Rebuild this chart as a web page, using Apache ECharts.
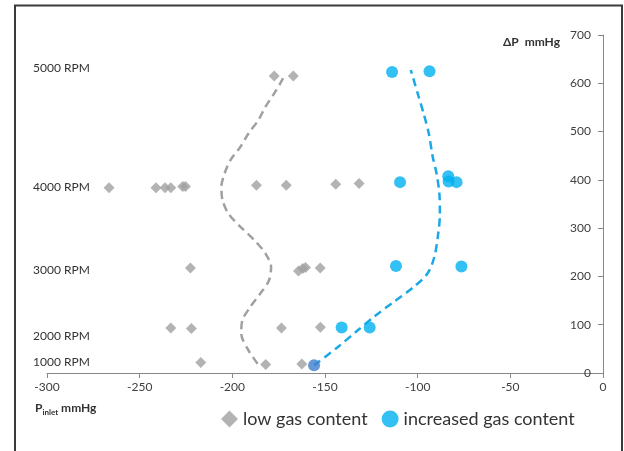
<!DOCTYPE html>
<html>
<head>
<meta charset="utf-8">
<script src="https://cdn.jsdelivr.net/npm/echarts@6/dist/echarts.min.js"></script>
<style>
html,body{margin:0;padding:0;background:#fff;}
#chart{width:624px;height:451px;}
</style>
</head>
<body>
<div id="chart"></div>
<script>
// Low gas content points [P_inlet mmHg, ΔP mmHg]
var lowGas = [
  [-177.4, 615], [-167.1, 615],
  [-266.5, 383.5], [-241.2, 383.5], [-236.3, 383.5], [-233.2, 383.5], [-226.8, 386], [-225.3, 386],
  [-187.0, 389], [-170.9, 389], [-144.2, 391], [-131.6, 392.5],
  [-222.6, 217.7], [-164.3, 211.4], [-162.0, 216.4], [-160.5, 218.5], [-152.6, 217.7],
  [-233.2, 93.3], [-222.1, 92], [-173.5, 93.3], [-152.5, 94.7],
  [-217.0, 21.5], [-182.0, 17.4], [-162.5, 18.7]
];
// Increased gas content points
var highGas = [
  [-113.8, 623.3], [-93.6, 624.8],
  [-109.5, 395.3], [-83.5, 407.7], [-83.3, 396.7], [-79.0, 395.3],
  [-111.7, 221.8], [-76.4, 220.5],
  [-141.0, 94], [-125.9, 94]
];
// Overlapping (darker) point at 1000 RPM
var overlapPoint = [[-155.9, 16]];
// Dashed trend curve, low gas content
var lowCurve = [
  [-186.4, 19.4], [-191.3, 47], [-195.2, 81.5], [-194.6, 109], [-190.3, 137], [-184.9, 164.5],
  [-180.2, 192], [-179.1, 219.8], [-182.1, 247.4], [-188.1, 275], [-195.6, 302.7], [-202.1, 330],
  [-205.3, 358], [-205.9, 385.6], [-204.2, 413], [-201.0, 441], [-195.6, 468.6], [-191.3, 496],
  [-185.9, 524], [-182.1, 551.5], [-177.4, 579], [-173.1, 607], [-172.4, 615]
];
// Dashed trend curve, increased gas content
var highCurve = [
  [-155.9, 16], [-143.0, 54], [-132.3, 88.5], [-123.7, 116], [-113.0, 147], [-102.2, 178],
  [-94.7, 206], [-91.0, 240.5], [-88.9, 289], [-88.0, 330], [-88.3, 372], [-89.8, 413],
  [-91.9, 448], [-94.0, 496], [-96.8, 537.7], [-100.0, 579], [-103.7, 627.5]
];
var rpmLabels = ['5000 RPM', '4000 RPM', '3000 RPM', '2000 RPM', '1000 RPM'];
var rpmLabelY = [69, 188, 271, 337, 363];
var seriesNames = ['low gas content', 'increased gas content'];

var FONT = 'Lato, "Open Sans", "Liberation Sans", sans-serif';
var chart = echarts.init(document.getElementById('chart'));

var graphics = [
  { type: 'rect', shape: { x: 15, y: 5.5, width: 607, height: 460 },
    style: { fill: 'none', stroke: '#3a3a3a', lineWidth: 2 }, silent: true },
  { type: 'text', left: 35, top: 402,
    style: { text: '{b|P}{s|inlet}{b| mmHg}', rich: {
      b: { fontFamily: FONT, fontSize: 12, fontWeight: 'bold', fill: '#333', verticalAlign: 'bottom' },
      s: { fontFamily: FONT, fontSize: 8, fontWeight: 'bold', fill: '#333', verticalAlign: 'bottom', padding: [0,0,-2,0] }
    } } },
  { type: 'text', left: 503, top: 36,
    style: { text: 'ΔP  mmHg', fontFamily: FONT, fontSize: 12, fontWeight: 'bold', fill: '#333' } }
];
rpmLabels.forEach(function (t, i) {
  graphics.push({ type: 'text', left: 33, top: rpmLabelY[i] - 7,
    style: { text: t, fontFamily: FONT, fontSize: 12, fill: '#333' } });
});

chart.setOption({
  animation: false,
  backgroundColor: '#fff',
  grid: { left: 47, right: 21, top: 35, bottom: 78, containLabel: false },
  legend: {
    data: [
      { name: seriesNames[0], icon: 'diamond' },
      { name: seriesNames[1], icon: 'circle' }
    ],
    left: 216, top: 405,
    itemWidth: 17, itemHeight: 17, itemGap: 14,
    textStyle: { fontFamily: FONT, fontSize: 18, color: '#333' }
  },
  xAxis: {
    type: 'value', min: -300, max: 0, interval: 50,
    axisLine: { onZero: false, lineStyle: { color: '#888', width: 1 } },
    axisTick: { show: true, length: 5, lineStyle: { color: '#888' } },
    axisLabel: { margin: 8, fontFamily: FONT, fontSize: 12, color: '#404040' },
    splitLine: { show: false }
  },
  yAxis: {
    type: 'value', position: 'right', min: 0, max: 700, interval: 100,
    axisLine: { show: true, onZero: false, lineStyle: { color: '#888', width: 1 } },
    axisTick: { show: true, inside: true, length: 5, lineStyle: { color: '#888' } },
    axisLabel: { inside: true, margin: 12, fontFamily: FONT, fontSize: 12, color: '#404040' },
    splitLine: { show: false }
  },
  graphic: graphics,
  series: [
    { name: 'lowCurve', type: 'line', data: lowCurve, smooth: 0.3, symbol: 'none', z: 1,
      lineStyle: { color: '#a0a0a0', width: 2.5, type: [8, 5] } },
    { name: 'highCurve', type: 'line', data: highCurve, smooth: 0.3, symbol: 'none', z: 1,
      lineStyle: { color: '#1ba8e6', width: 2.5, type: [8, 5] } },
    { name: seriesNames[0], type: 'scatter', data: lowGas, symbol: 'diamond', symbolSize: 11, z: 3,
      itemStyle: { color: '#a0a0a0' } },
    { name: seriesNames[1], type: 'scatter', data: highGas, symbol: 'circle', symbolSize: 12, z: 4,
      itemStyle: { color: '#00b0f0' } },
    { name: 'overlap', type: 'scatter', data: overlapPoint, symbol: 'circle', symbolSize: 12, z: 5,
      itemStyle: { color: '#3d7dcc' } }
  ]
});
</script>
</body>
</html>
